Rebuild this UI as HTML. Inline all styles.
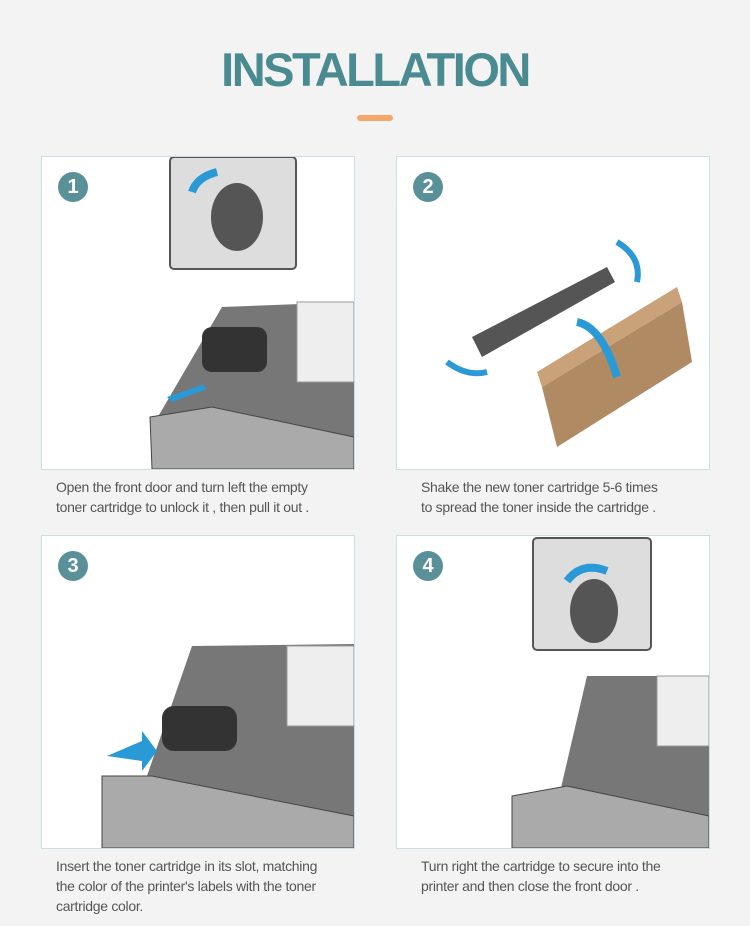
<!DOCTYPE html>
<html><head><meta charset="utf-8"><style>
body{margin:0;width:750px;height:926px;background:#f3f3f3;font-family:"Liberation Sans",sans-serif;position:relative;overflow:hidden}
h1{position:absolute;top:42px;left:0;width:750px;text-align:center;margin:0;font-size:47px;color:#4a8a91;font-weight:bold;letter-spacing:-2.5px}
.bar{position:absolute;left:357px;top:115px;width:36px;height:6px;border-radius:3px;background:#f5a66a}
.p{position:absolute;width:312px;height:312px;background:#fff;border:1px solid #c9dfe1;overflow:hidden}
.n{position:absolute;left:16px;top:15px;width:30px;height:30px;border-radius:50%;background:#5a9199;color:#fff;font-weight:bold;font-size:20px;text-align:center;line-height:30px}
.c{position:absolute;font-size:14px;color:#555;line-height:20px;letter-spacing:-0.3px}
</style></head><body>
<h1>INSTALLATION</h1><div class="bar"></div>

<div class="p" style="left:41px;top:156px">
<svg width="312" height="312" style="position:absolute;left:0;top:0">
<rect x="128" y="0" width="126" height="112" fill="#ddd" stroke="#555" stroke-width="2" rx="4"/>
<ellipse cx="195" cy="60" rx="26" ry="34" fill="#555"/>
<path d="M175 15 q-20 5 -25 20" stroke="#2a9ad6" stroke-width="8" fill="none"/>
<polygon points="180,150 312,145 312,312 120,312 110,270" fill="#777"/>
<rect x="255" y="145" width="57" height="80" fill="#eee" stroke="#999"/>
<rect x="160" y="170" width="65" height="45" rx="10" fill="#333"/>
<polygon points="108,260 170,250 312,280 312,312 110,312" fill="#aaa" stroke="#444"/>
<polygon points="125,240 160,228 155,222 165,232 130,245" fill="#2a9ad6"/>
</svg><div class="n">1</div></div>

<div class="p" style="left:396px;top:156px">
<svg width="312" height="312" style="position:absolute;left:0;top:0">
<polygon points="75,180 210,110 218,125 85,200" fill="#555"/>
<polygon points="145,230 285,145 295,205 160,290" fill="#b08a62"/>
<polygon points="145,230 285,145 280,130 140,215" fill="#c9a27a"/>
<path d="M180 165 q25 5 40 55" stroke="#2a9ad6" stroke-width="8" fill="none"/>
<path d="M220 85 q25 15 20 40" stroke="#2a9ad6" stroke-width="6" fill="none"/>
<path d="M50 205 q20 15 40 10" stroke="#2a9ad6" stroke-width="6" fill="none"/>
</svg><div class="n">2</div></div>

<div class="p" style="left:41px;top:535px">
<svg width="312" height="312" style="position:absolute;left:0;top:0">
<polygon points="150,110 312,108 312,312 80,312" fill="#777"/>
<rect x="245" y="110" width="67" height="80" fill="#eee" stroke="#999"/>
<rect x="120" y="170" width="75" height="45" rx="12" fill="#333"/>
<polygon points="60,240 110,240 312,280 312,312 60,312" fill="#aaa" stroke="#444"/>
<polygon points="65,220 100,205 100,195 115,215 100,235 100,225" fill="#2a9ad6"/>
</svg><div class="n">3</div></div>

<div class="p" style="left:396px;top:535px">
<svg width="312" height="312" style="position:absolute;left:0;top:0">
<rect x="136" y="2" width="118" height="112" fill="#ddd" stroke="#555" stroke-width="2" rx="4"/>
<ellipse cx="197" cy="75" rx="24" ry="32" fill="#555"/>
<path d="M170 45 q15 -20 40 -10" stroke="#2a9ad6" stroke-width="8" fill="none"/>
<polygon points="190,140 312,140 312,312 150,312" fill="#777"/>
<rect x="260" y="140" width="52" height="70" fill="#eee" stroke="#999"/>
<polygon points="115,260 170,250 312,280 312,312 115,312" fill="#aaa" stroke="#444"/>
</svg><div class="n">4</div></div>

<div class="c" style="left:56px;top:477px">Open the front door and turn left the empty<br>toner cartridge to unlock it , then pull it out .</div>
<div class="c" style="left:421px;top:477px">Shake the new toner cartridge 5-6 times<br>to spread the toner inside the cartridge .</div>
<div class="c" style="left:56px;top:856px">Insert the toner cartridge in its slot, matching<br>the color of the printer's labels with the toner<br>cartridge color.</div>
<div class="c" style="left:421px;top:856px">Turn right the cartridge to secure into the<br>printer and then close the front door .</div>
</body></html>
